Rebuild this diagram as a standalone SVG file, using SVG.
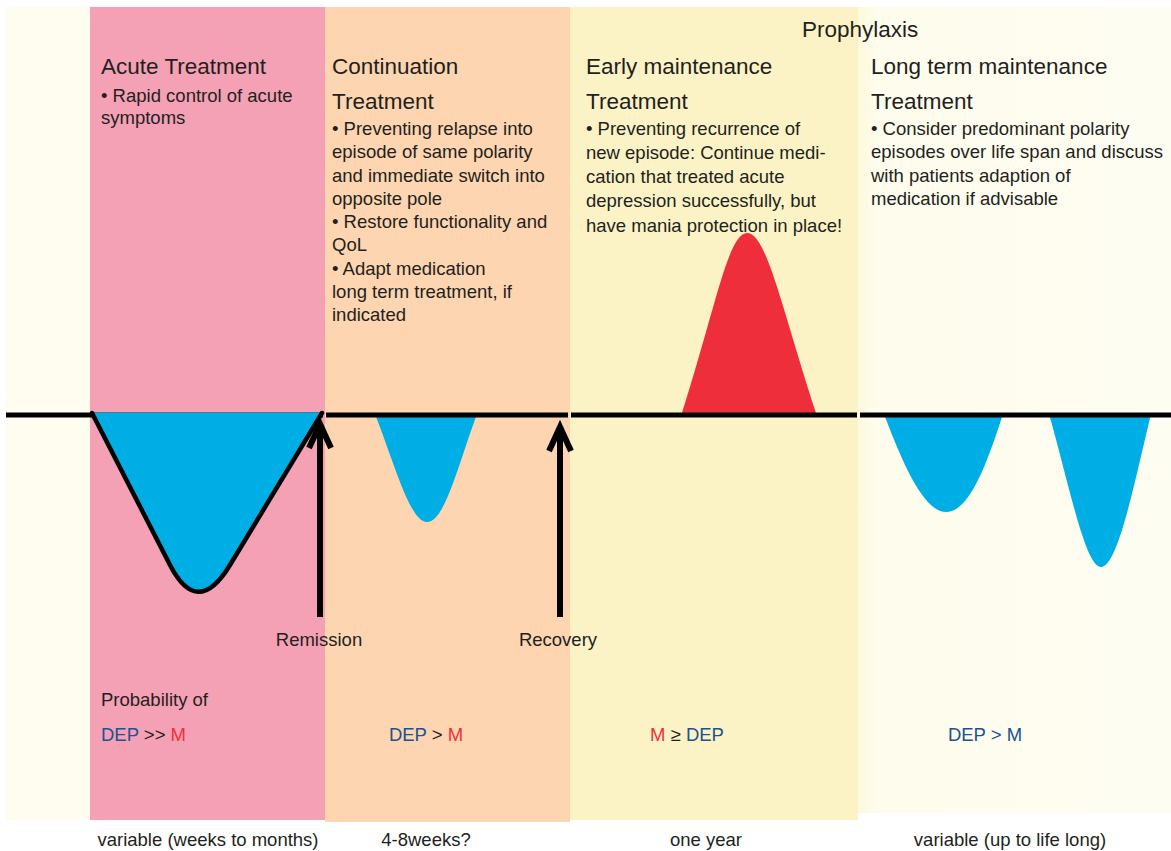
<svg xmlns="http://www.w3.org/2000/svg" width="1171" height="851" viewBox="0 0 1171 851">
  <defs>
    <style>
      text { font-family: "Liberation Sans", Arial, sans-serif; fill: #231f20; }
      .head { font-size: 22.5px; }
      .body { font-size: 18.5px; }
      .mid { text-anchor: middle; }
      .dep { fill: #21528f; }
      .man { fill: #ee3239; }
      .axis { stroke: #000; stroke-width: 5; fill: none; }
      .dep-ep { fill: #00aee6; }
      .man-ep { fill: #ee2e3a; }
      .outline { fill: none; stroke: #000; stroke-width: 4.5; stroke-linejoin: round; stroke-linecap: round; }
      .arrow { stroke: #000; stroke-width: 6; fill: none; marker-end: url(#chevron); }
    </style>
    <marker id="chevron" markerUnits="userSpaceOnUse" markerWidth="40" markerHeight="40" viewBox="-30 -20 40 40" refX="0" refY="0" orient="auto">
      <path d="M-24,-11 L0,0 L-24,11" fill="none" stroke="#000" stroke-width="6" stroke-linejoin="miter"/>
    </marker>
    <linearGradient id="longFade" x1="0" y1="0" x2="1" y2="0">
      <stop offset="0" stop-color="#fdf9de"/>
      <stop offset="0.06" stop-color="#fefcec"/>
      <stop offset="1" stop-color="#fefdf2"/>
    </linearGradient>
  </defs>

  <rect width="1171" height="851" fill="#ffffff"/>

  <!-- phase bands -->
  <g id="phases">
    <rect id="pre-band" x="6" y="7" width="84" height="813" fill="#fefdf0"/>
    <rect id="acute-band" x="90" y="7" width="235" height="813" fill="#f5a1b5"/>
    <rect id="continuation-band" x="325" y="7" width="245" height="815" fill="#fdd5b0"/>
    <rect id="early-band" x="570" y="7" width="288" height="813" fill="#fbf3c5"/>
    <rect id="long-band" x="858" y="7" width="313" height="806" fill="url(#longFade)"/>
  </g>

  <!-- mood episodes below / above the baseline -->
  <g id="episodes">
    <path id="dep-2" class="dep-ep" d="M375,414 C395,465 410,522 427,522 C445,522 458,465 477,414 Z"/>
    <path id="mania-1" class="man-ep" d="M681,416 C715,310 728,233 747,233 C767,233 782,310 817,416 Z"/>
    <path id="dep-3" class="dep-ep" d="M884,414 C905,470 925,512 946,512 C968,512 985,470 1003,414 Z"/>
    <path id="dep-4" class="dep-ep" d="M1049,414 C1068,480 1085,567 1101,567 C1118,567 1135,480 1151,414 Z"/>
  </g>

  <!-- baseline (euthymia) -->
  <g id="baseline">
    <line class="axis" x1="6" y1="415" x2="323" y2="415"/>
    <line class="axis" x1="326" y1="415" x2="568" y2="415"/>
    <line class="axis" x1="571" y1="415" x2="857" y2="415"/>
    <line class="axis" x1="860" y1="415" x2="1171" y2="415"/>
  </g>

  <!-- index depressive episode -->
  <g id="dep-1">
    <path class="dep-ep" d="M92,412.5 L170,565 Q197.5,618.6 230,565 L322,412.5 Z"/>
    <path class="outline" d="M92,413 L170,565 Q197.5,618.6 230,565 L322,413"/>
  </g>

  <!-- transition arrows -->
  <g id="connectors">
    <line id="to-remission" class="arrow" x1="320" y1="617" x2="320" y2="424"/>
    <line id="to-recovery" class="arrow" x1="560" y1="617" x2="560" y2="427"/>
  </g>

  <g id="prophylaxis-title">
    <text class="head" x="802" y="37">Prophylaxis</text>
  </g>

  <g id="acute">
    <text class="head" x="101" y="74">Acute Treatment</text>
    <text class="body" x="101" y="102">• Rapid control of acute</text>
    <text class="body" x="101" y="124">symptoms</text>
  </g>

  <g id="continuation">
    <text class="head" x="332" y="74">Continuation</text>
    <text class="head" x="332" y="109">Treatment</text>
    <text class="body" x="332" y="135">• Preventing relapse into</text>
    <text class="body" x="332" y="158.3">episode of same polarity</text>
    <text class="body" x="332" y="181.5">and immediate switch into</text>
    <text class="body" x="332" y="204.8">opposite pole</text>
    <text class="body" x="332" y="228">• Restore functionality and</text>
    <text class="body" x="332" y="251.3">QoL</text>
    <text class="body" x="332" y="274.5">• Adapt medication</text>
    <text class="body" x="332" y="297.8">long term treatment, if</text>
    <text class="body" x="332" y="321">indicated</text>
  </g>

  <g id="early-maintenance">
    <text class="head" x="586" y="74">Early maintenance</text>
    <text class="head" x="586" y="109">Treatment</text>
    <text class="body" x="586" y="134.5">• Preventing recurrence of</text>
    <text class="body" x="586" y="158.5">new episode: Continue medi-</text>
    <text class="body" x="586" y="182.5">cation that treated acute</text>
    <text class="body" x="586" y="207">depression successfully, but</text>
    <text class="body" x="586" y="231.5">have mania protection in place!</text>
  </g>

  <g id="long-term-maintenance">
    <text class="head" x="871" y="74">Long term maintenance</text>
    <text class="head" x="871" y="109">Treatment</text>
    <text class="body" x="871" y="134.5">• Consider predominant polarity</text>
    <text class="body" x="871" y="158">episodes over life span and discuss</text>
    <text class="body" x="871" y="181.5">with patients adaption of</text>
    <text class="body" x="871" y="204.8">medication if advisable</text>
  </g>

  <g id="milestones">
    <text class="body mid" x="319" y="646">Remission</text>
    <text class="body mid" x="558" y="646">Recovery</text>
  </g>

  <g id="probabilities">
    <text class="body" x="101" y="706">Probability of</text>
    <text class="body" x="101" y="741"><tspan class="dep">DEP</tspan> &gt;&gt; <tspan class="man">M</tspan></text>
    <text class="body mid" x="426" y="741"><tspan class="dep">DEP</tspan> &gt; <tspan class="man">M</tspan></text>
    <text class="body mid" x="687" y="741"><tspan class="man">M</tspan> ≥ <tspan class="dep">DEP</tspan></text>
    <text class="body mid dep" x="985" y="741">DEP &gt; M</text>
  </g>

  <g id="durations">
    <text class="body mid" x="208" y="846">variable (weeks to months)</text>
    <text class="body mid" x="426" y="846">4-8weeks?</text>
    <text class="body mid" x="706" y="846">one year</text>
    <text class="body mid" x="1010" y="846">variable (up to life long)</text>
  </g>
</svg>
